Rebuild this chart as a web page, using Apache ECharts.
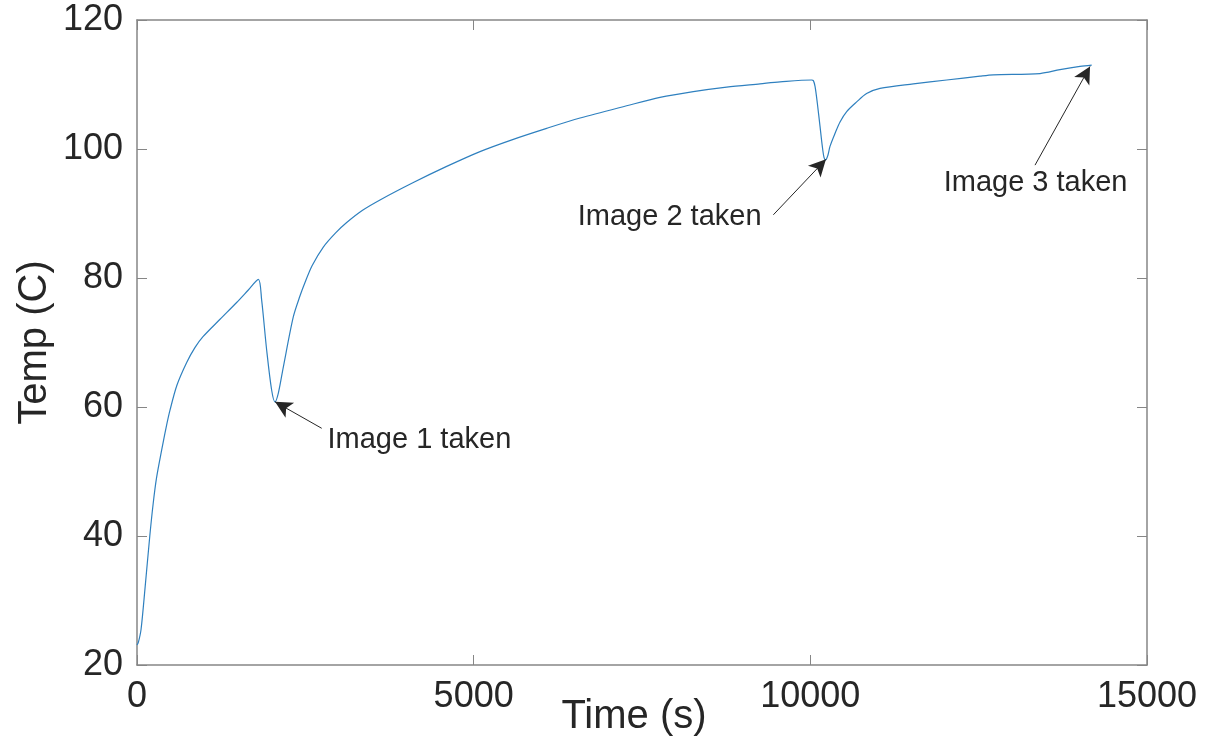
<!DOCTYPE html>
<html>
<head>
<meta charset="utf-8">
<script src="https://cdn.jsdelivr.net/npm/echarts@6/dist/echarts.min.js"></script>
<style>
  html, body { margin: 0; padding: 0; background: #fff; }
  #chart { width: 1205px; height: 743px; }
</style>
</head>
<body>
<div id="chart"></div>
<script>
// Oven temperature log: time in seconds, temperature in degrees C
const timeS = [
  0, 20, 60, 120, 190, 240, 290, 366, 430, 490, 594, 738, 860, 980, 1233, 1480, 1650, 1802,
  1851, 1926, 2000, 2050, 2100, 2173, 2322, 2420, 2495, 2600, 2767, 2950, 3114, 3350, 3609,
  4104, 4599, 5094, 5589, 6084, 6580, 7272, 7767, 8262, 8757, 9253, 9550, 10020, 10045,
  10070, 10104, 10144, 10178, 10203, 10225, 10260, 10292, 10366, 10441, 10540, 10688, 10836,
  11035, 11530, 12025, 12520, 12718, 13411, 13708, 14005, 14179
];
const tempC = [
  23.1, 23.5, 25.5, 32.0, 40.0, 45.0, 49.0, 53.3, 56.7, 59.5, 63.4, 66.9, 69.2, 70.9, 73.6, 76.2, 78.1, 79.8,
  76.6, 68.8, 62.6, 60.8, 62.2, 66.2, 74.0, 77.2, 79.3, 81.9, 84.8, 87.0, 88.6, 90.5, 92.1,
  94.8, 97.3, 99.6, 101.5, 103.2, 104.8, 106.7, 108.0, 108.9, 109.6, 110.1, 110.4, 110.7, 110.6,
  109.7, 107.1, 103.5, 100.4, 98.7, 98.3, 99.0, 100.4, 102.4, 104.2, 105.8, 107.3, 108.6,
  109.4, 110.1, 110.7, 111.3, 111.5, 111.7, 112.3, 112.8, 113.0
];

// Axis ranges and ticks
const xMin = 0, xMax = 15000, xStep = 5000;
const yMin = 20, yMax = 120, yStep = 20;

// Callouts: text, text anchor (data coords), arrow tail and arrow tip (data coords)
const noteText   = ['Image 1 taken', 'Image 2 taken', 'Image 3 taken'];
const noteAnchor = [[2822, 54.9], [9283, 89.5], [13345, 94.7]];
const notePos    = ['right', 'left', 'inside'];
const arrowTail  = [[2743, 56.7], [9451, 89.8], [13337, 97.5]];
const arrowTip   = [[2050, 60.8], [10232, 98.4], [14154, 112.8]];

const FONT = '"Liberation Sans", Arial, Helvetica, sans-serif';
const TEXT = '#262626';
const AXIS = '#868686';

const points = timeS.map((t, i) => [t, tempC[i]]);

const boxAxisBase = {
  type: 'value',
  axisLine: { show: true, onZero: false, lineStyle: { color: AXIS, width: 1.5 } },
  axisTick: { show: true, inside: true, length: 10, lineStyle: { color: AXIS, width: 1 } },
  splitLine: { show: false }
};

const plainNumber = v => String(v);

const chart = echarts.init(document.getElementById('chart'), null, { renderer: 'canvas' });
chart.setOption({
  animation: false,
  backgroundColor: '#fff',
  grid: {
    left: 137, right: 58, top: 20, bottom: 78,
    containLabel: false,
    outerBoundsMode: 'none'
  },
  xAxis: [
    Object.assign({}, boxAxisBase, {
      position: 'bottom', min: xMin, max: xMax, interval: xStep,
      name: 'Time (s)', nameLocation: 'middle', nameGap: 32, nameMoveOverlap: false,
      nameTextStyle: { fontFamily: FONT, fontSize: 40, color: TEXT, padding: [0, 16, 0, 0] },
      axisLabel: { show: true, margin: 14, fontFamily: FONT, fontSize: 36, color: TEXT, formatter: plainNumber }
    }),
    Object.assign({}, boxAxisBase, {
      position: 'top', min: xMin, max: xMax, interval: xStep,
      axisLabel: { show: false }
    })
  ],
  yAxis: [
    Object.assign({}, boxAxisBase, {
      position: 'left', min: yMin, max: yMax, interval: yStep,
      name: 'Temp (C)', nameLocation: 'middle', nameGap: 82, nameMoveOverlap: false,
      nameTextStyle: { fontFamily: FONT, fontSize: 40, color: TEXT },
      axisLabel: { show: true, margin: 14, fontFamily: FONT, fontSize: 36, color: TEXT, formatter: plainNumber }
    }),
    Object.assign({}, boxAxisBase, {
      position: 'right', min: yMin, max: yMax, interval: yStep,
      axisLabel: { show: false }
    })
  ],
  series: [{
    type: 'line',
    data: points,
    xAxisIndex: 0,
    yAxisIndex: 0,
    showSymbol: false,
    smooth: 0.3,
    lineStyle: { color: '#2f80bf', width: 1.2 },
    silent: true,
    markLine: {
      silent: true,
      symbol: ['none', 'arrow'],
      symbolSize: [13, 17],
      label: { show: false },
      lineStyle: { color: '#262626', width: 1, type: 'solid' },
      emphasis: { disabled: true },
      data: arrowTail.map((tail, i) => [
        { coord: tail, symbol: 'none' },
        { coord: arrowTip[i], symbol: 'arrow' }
      ])
    },
    markPoint: {
      silent: true,
      symbol: 'circle',
      symbolSize: 1,
      itemStyle: { color: 'rgba(0,0,0,0)' },
      emphasis: { disabled: true },
      data: noteText.map((txt, i) => ({
        coord: noteAnchor[i],
        label: {
          show: true,
          formatter: txt,
          position: notePos[i],
          distance: 0,
          fontFamily: FONT,
          fontSize: 29,
          color: TEXT
        }
      }))
    }
  }]
});
</script>
</body>
</html>
